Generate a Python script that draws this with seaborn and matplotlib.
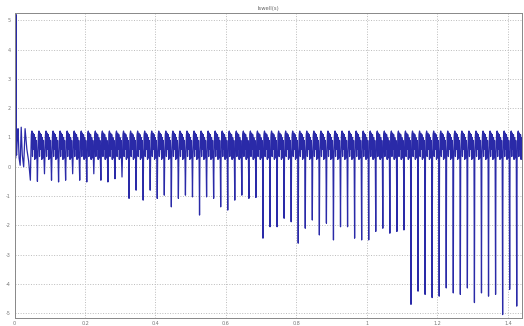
import numpy as np
import pandas as pd
import matplotlib
matplotlib.use("Agg")
import matplotlib.pyplot as plt
import seaborn as sns

# values
TITLE = "Iswell(s)"
x_ticks = [0, 0.2, 0.4, 0.6, 0.8, 1.0, 1.2, 1.4]
x_tick_labels = ["0", "0.2", "0.4", "0.6", "0.8", "1", "1.2", "1.4"]
y_ticks = [5, 4, 3, 2, 1, 0, -1, -2, -3, -4, -5]

# start-up transient (time, value)
start_t = [0.0, 0.0035, 0.0035, 0.0045, 0.0045, 0.006, 0.008, 0.010, 0.013, 0.016, 0.019,
           0.022, 0.026, 0.030, 0.035, 0.040]
start_v = [0.3, 0.3, 5.2, 5.2, 0.5, 0.4, 1.0, 1.3, 0.3, 0.05, 1.35,
           0.4, 0.0, 1.3, 0.6, 0.2]

# first notch time and period between notches
first_notch = 0.045
period = 0.02

# depth of each notch (one per cycle)
notch_depth = [
    -0.46, -0.50, -0.24, -0.46, -0.52, -0.46, -0.24, -0.46, -0.52, -0.24,
    -0.46, -0.52, -0.41, -0.35, -1.08, -0.80, -1.14, -0.80, -1.08, -0.97,
    -1.37, -1.08, -0.97, -1.03, -1.65, -1.03, -1.08, -1.37, -1.48, -1.14,
    -0.97, -1.08, -1.05, -2.44, -2.05, -2.05, -1.76, -1.88, -2.61, -2.10,
    -1.82, -2.33, -1.93, -2.50, -2.05, -2.05, -2.44, -2.50, -2.50, -2.21,
    -2.10, -2.27, -2.21, -2.16, -4.70, -4.25, -4.36, -4.47, -4.42, -4.14,
    -4.31, -4.36, -4.14, -4.64, -4.31, -4.42, -4.36, -5.05, -4.19, -4.76,
]

# shape of one cycle after the notch (fraction of period, value)
cycle_phase = [0.05, 0.14, 0.22, 0.30, 0.38, 0.46, 0.54, 0.62, 0.70, 0.78, 0.86, 0.94]
cycle_value = [0.2, 1.1, 1.22, 0.35, 1.15, 0.6, 1.1, 0.25, 1.0, 0.3, 0.9, 0.2]

t_all = list(start_t)
v_all = list(start_v)
for k, d in enumerate(notch_depth):
    tk = first_notch + k * period
    t_all.append(tk)
    v_all.append(d)
    for p, v in zip(cycle_phase, cycle_value):
        t_all.append(tk + p * period)
        v_all.append(v)

df = pd.DataFrame({"t": t_all, "i": v_all})

sns.set_style("whitegrid")
plt.rcParams["font.family"] = ["DejaVu Sans"]

fig = plt.figure(figsize=(5.24, 3.26), dpi=100)
ax = fig.add_axes([0.0277, 0.026, 0.9685, 0.934])

sns.lineplot(data=df, x="t", y="i", ax=ax, estimator=None, sort=False,
             color="#2a2aa8", linewidth=0.9)

ax.set_xlim(0, 1.44)
ax.set_ylim(-5.15, 5.25)
ax.set_xticks(x_ticks)
ax.set_xticklabels(x_tick_labels)
ax.set_yticks(y_ticks)
ax.set_yticklabels([str(v) for v in y_ticks])
ax.tick_params(labelsize=3.5, colors="#777777", pad=0.8, length=2)
ax.set_xlabel("")
ax.set_ylabel("")
ax.set_title(TITLE, fontsize=3.8, color="#666666", pad=2)
ax.grid(True, linestyle=":", color="#bbbbbb", linewidth=0.7)
for s in ax.spines.values():
    s.set_color("#888888")
    s.set_linewidth(0.7)

fig.savefig("out.png", dpi=100)
